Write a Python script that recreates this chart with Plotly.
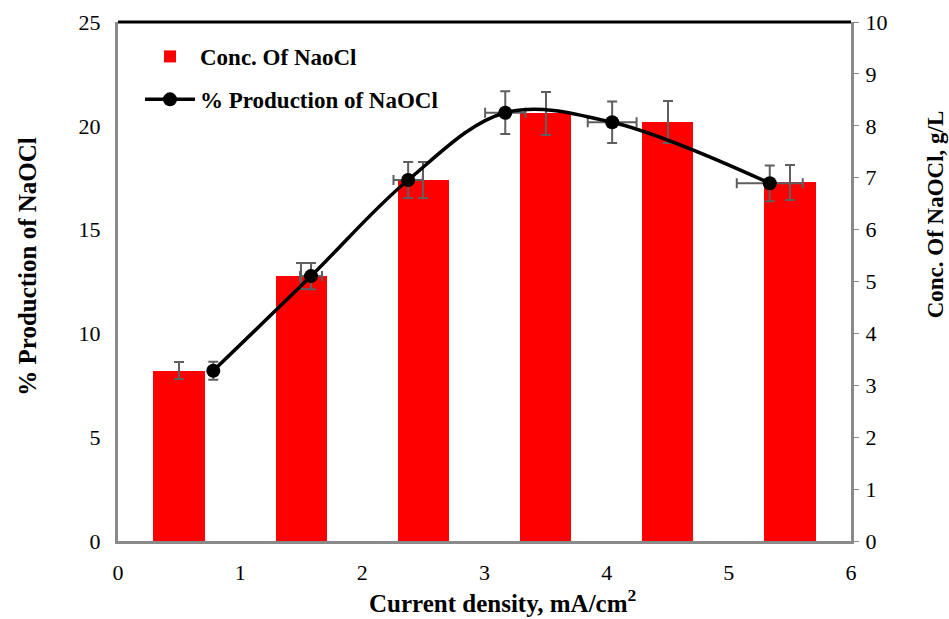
import plotly.graph_objects as go

# Data
bar_x = [0.5, 1.5, 2.5, 3.5, 4.5, 5.5]
conc_gL = [3.28, 5.10, 6.96, 8.24, 8.07, 6.91]
conc_err = [0.16, 0.25, 0.35, 0.41, 0.40, 0.34]

line_x = [0.78, 1.58, 2.375, 3.17, 4.045, 5.335]
prod_pct = [8.2, 12.76, 17.39, 20.63, 20.17, 17.23]
prod_err = [0.43, 0.63, 0.87, 1.03, 1.0, 0.86]
line_x_err = [0.0, 0.09, 0.12, 0.165, 0.2, 0.27]

FONT = "Liberation Serif, Times New Roman, serif"
ERR_COLOR = "#5f5f5f"
AX_COLOR = "#8a8a8a"

fig = go.Figure()

fig.add_trace(go.Bar(
    x=bar_x, y=conc_gL, width=0.42,
    marker=dict(color="#ff0000", line=dict(width=0)),
    error_y=dict(type="data", array=conc_err, color=ERR_COLOR, thickness=2, width=5),
    name="<b>Conc. Of NaoCl</b>", yaxis="y", legendgroup="a",
))

fig.add_trace(go.Scatter(
    x=line_x, y=prod_pct, mode="lines+markers",
    line=dict(color="black", width=3.5, shape="spline", smoothing=1.0),
    marker=dict(color="black", size=14),
    error_y=dict(type="data", array=prod_err, color=ERR_COLOR, thickness=2, width=5),
    error_x=dict(type="data", array=line_x_err, color=ERR_COLOR, thickness=2, width=5),
    name="<b>% Production of NaOCl</b>", yaxis="y2", legendgroup="b",
))

tf = dict(family=FONT, size=22, color="black")

fig.update_layout(
    width=949, height=619,
    margin=dict(l=118, r=98, t=22, b=78, autoexpand=False),
    paper_bgcolor="white", plot_bgcolor="white",
    font=dict(family=FONT, size=20, color="black"),
    xaxis=dict(
        range=[0, 6], dtick=1, showgrid=False, zeroline=False,
        showline=True, linecolor=AX_COLOR, linewidth=3, ticks="",
        tickfont=tf, automargin=False, ticklabelstandoff=10,
    ),
    yaxis=dict(
        side="right", range=[0, 10], dtick=1, showgrid=False, zeroline=False,
        showline=True, linecolor=AX_COLOR, linewidth=3,
        ticks="outside", ticklen=5, tickcolor=AX_COLOR, tickwidth=1,
        tickfont=tf, automargin=False, ticklabelstandoff=2,
    ),
    yaxis2=dict(
        side="left", overlaying="y", range=[0, 25], dtick=5, showgrid=False, zeroline=False,
        showline=True, linecolor=AX_COLOR, linewidth=3, ticks="",
        tickfont=tf, automargin=False, ticklabelstandoff=10,
    ),
    legend=dict(
        x=0.03, y=0.975, xanchor="left", yanchor="top",
        bgcolor="rgba(0,0,0,0)", font=dict(size=23, family=FONT, color="black"),
        traceorder="grouped", tracegroupgap=10, itemwidth=50,
    ),
    bargap=0,
    annotations=[
        dict(text="<b>% Production of NaOCl</b>", xref="paper", yref="paper",
             x=-0.123, y=0.53, textangle=-90, showarrow=False,
             font=dict(family=FONT, size=25, color="black"),
             xanchor="center", yanchor="middle"),
        dict(text="<b>Conc. Of NaOCl, g/L</b>", xref="paper", yref="paper",
             x=1.115, y=0.63, textangle=-90, showarrow=False,
             font=dict(family=FONT, size=23, color="black"),
             xanchor="center", yanchor="middle"),
        dict(text="<b>Current density, mA/cm<sup>2</sup></b>", xref="paper", yref="paper",
             x=0.525, y=-0.116, showarrow=False,
             font=dict(family=FONT, size=25, color="black"),
             xanchor="center", yanchor="middle"),
    ],
)

fig.add_shape(type="line", xref="x domain", yref="y domain", x0=0, x1=1, y0=1, y1=1,
              line=dict(color="black", width=3))

fig.write_html(
    "out.html",
    config={"displayModeBar": False},
    post_script="document.body.style.margin='0';document.body.style.overflow='hidden';"
                "document.documentElement.style.overflow='hidden';",
)
